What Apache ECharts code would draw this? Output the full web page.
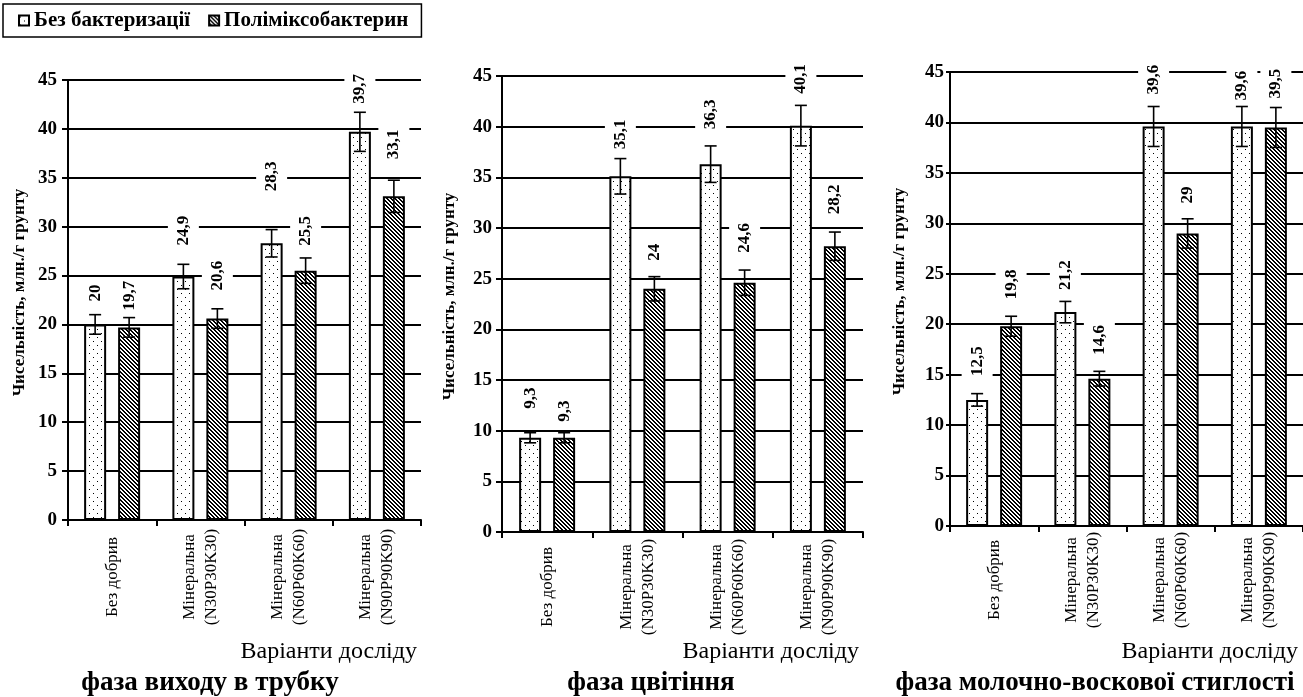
<!DOCTYPE html>
<html>
<head>
<meta charset="utf-8">
<script src="https://cdn.jsdelivr.net/npm/echarts@6/dist/echarts.min.js"></script>
<style>html,body{margin:0;padding:0;background:#fff}#c{width:1303px;height:697px}</style>
</head>
<body>
<div id="c"></div>
<script>
// ---------- data ----------
const categories = ['Без добрив', 'Мінеральна\n(N30P30K30)', 'Мінеральна\n(N60P60K60)', 'Мінеральна\n(N90P90K90)'];
const seriesNames = ['Без бактеризації', 'Поліміксобактерин'];
const phaseTitles = ['фаза виходу в трубку', 'фаза цвітіння', 'фаза молочно-воскової стиглості'];
const xAxisTitle = 'Варіанти досліду';
const yAxisTitle = 'Чисельність, млн./г грунту';
const yTicks = [0, 5, 10, 15, 20, 25, 30, 35, 40, 45];

const tubeNone = [20, 24.9, 28.3, 39.7];
const tubePoly = [19.7, 20.6, 25.5, 33.1];
const tubeNoneErr = [1.0, 1.25, 1.4, 2.0];
const tubePolyErr = [1.0, 1.0, 1.3, 1.65];

const bloomNone = [9.3, 35.1, 36.3, 40.1];
const bloomPoly = [9.3, 24, 24.6, 28.2];
const bloomNoneErr = [0.5, 1.75, 1.8, 2.0];
const bloomPolyErr = [0.5, 1.2, 1.25, 1.4];

const milkNone = [12.5, 21.2, 39.6, 39.6];
const milkPoly = [19.8, 14.6, 29, 39.5];
const milkNoneErr = [0.62, 1.06, 1.98, 1.98];
const milkPolyErr = [0.99, 0.73, 1.45, 1.98];

// ---------- style (label gaps above bar tops, px) ----------
const gapTubeNone = [21, 29, 50, 26];
const gapTubePoly = [15, 26, 23, 35];
const gapBloomNone = [27, 25, 33, 30];
const gapBloomPoly = [14, 26, 28, 30];
const gapMilkNone = [22, 20, 30, 24];
const gapMilkPoly = [25, 22, 28, 27];

const FONT = 'Liberation Serif';
const BAR_W = 22, BAR_BORDER = 2, BAR_VIS_GAP = 10;
const centerStep = BAR_W + BAR_BORDER + BAR_VIS_GAP;
const barGapPct = ((centerStep - BAR_W) / BAR_W * 100).toFixed(1) + '%';

function makeDots() {
  const c = document.createElement('canvas'); c.width = 8; c.height = 8;
  const g = c.getContext('2d'); g.fillStyle = '#fff'; g.fillRect(0, 0, 8, 8);
  g.fillStyle = '#000'; g.fillRect(1, 1, 1, 1); g.fillRect(5, 5, 1, 1);
  return c;
}
function makeHatch() {
  const n = 4; const c = document.createElement('canvas'); c.width = n; c.height = n;
  const g = c.getContext('2d'); g.fillStyle = '#fff'; g.fillRect(0, 0, n, n);
  g.fillStyle = '#000';
  for (let i = 0; i < n; i++) { g.fillRect(i, i, 1, 1); g.fillRect((i + 1) % n, i, 1, 1); }
  return c;
}
const dotFill = { image: makeDots(), repeat: 'repeat' };
const hatchFill = { image: makeHatch(), repeat: 'repeat' };

const grids = [
  { left: 68, top: 80, width: 353, height: 440 },
  { left: 502, top: 76, width: 361, height: 456 },
  { left: 950, top: 72, width: 356, height: 454 }
];
const panels = [
  { none: tubeNone, poly: tubePoly, noneErr: tubeNoneErr, polyErr: tubePolyErr, gN: gapTubeNone, gP: gapTubePoly, nameGap: 40, lblMargin: 11, tick: 6, xMargin: 57, titleX: 210 },
  { none: bloomNone, poly: bloomPoly, noneErr: bloomNoneErr, polyErr: bloomPolyErr, gN: gapBloomNone, gP: gapBloomPoly, nameGap: 44, lblMargin: 10, tick: 6, xMargin: 55, titleX: 651 },
  { none: milkNone, poly: milkPoly, noneErr: milkNoneErr, polyErr: milkPolyErr, gN: gapMilkNone, gP: gapMilkPoly, nameGap: 42, lblMargin: 6, tick: 4, xMargin: 54, titleX: 1095 }
];

const xAxes = [], yAxes = [], series = [], graphics = [];
const fmt = p => String(p.value).replace('.', ',');

function errRender(offset) {
  return function (params, api) {
    const x = api.value(0), v = api.value(1), e = api.value(2);
    const t = api.coord([x, v + e]), b = api.coord([x, v - e]);
    const cx = t[0] + offset, cap = 6;
    const st = { stroke: '#000', lineWidth: 1.6 };
    return { type: 'group', children: [
      { type: 'line', shape: { x1: cx, y1: t[1], x2: cx, y2: b[1] }, style: st },
      { type: 'line', shape: { x1: cx - cap, y1: t[1], x2: cx + cap, y2: t[1] }, style: st },
      { type: 'line', shape: { x1: cx - cap, y1: b[1], x2: cx + cap, y2: b[1] }, style: st }
    ] };
  };
}

panels.forEach((p, gi) => {
  xAxes.push({
    type: 'category', gridIndex: gi, data: categories,
    axisLine: { lineStyle: { color: '#000', width: 2 } },
    axisTick: { show: true, length: 6, lineStyle: { color: '#000', width: 2 } },
    axisLabel: { interval: 0, rotate: 90, align: 'center', verticalAlign: 'middle', margin: p.xMargin,
      fontFamily: FONT, fontSize: 17, lineHeight: 22, color: '#000' },
    splitLine: { show: false }
  });
  yAxes.push({
    type: 'value', gridIndex: gi, min: yTicks[0], max: yTicks[yTicks.length - 1], interval: yTicks[1] - yTicks[0],
    name: yAxisTitle, nameLocation: 'middle', nameGap: p.nameGap, nameRotate: 90,
    nameTextStyle: { fontFamily: FONT, fontWeight: 'bold', fontSize: 17, color: '#000', padding: [0, 0, 0, 15] },
    axisLine: { show: true, lineStyle: { color: '#000', width: 2 } },
    axisTick: { show: true, length: p.tick, lineStyle: { color: '#000', width: 2 } },
    axisLabel: { fontFamily: FONT, fontWeight: 'bold', fontSize: 19, color: '#000', margin: p.lblMargin },
    splitLine: { show: true, lineStyle: { color: '#000', width: 2 } }
  });
  const lbl = { show: true, position: 'top', rotate: 90, align: 'left', verticalAlign: 'middle',
    fontFamily: FONT, fontWeight: 'bold', fontSize: 17, color: '#000',
    backgroundColor: '#fff', padding: [7, 2, 7, 2], formatter: fmt };
  series.push({
    type: 'bar', name: seriesNames[0], xAxisIndex: gi, yAxisIndex: gi, barWidth: BAR_W, barGap: barGapPct,
    itemStyle: { color: dotFill, borderColor: '#000', borderWidth: BAR_BORDER },
    label: lbl, z: 2,
    data: p.none.map((v, i) => ({ value: v, label: { distance: p.gN[i] } }))
  });
  series.push({
    type: 'bar', name: seriesNames[1], xAxisIndex: gi, yAxisIndex: gi, barWidth: BAR_W, barGap: barGapPct,
    itemStyle: { color: hatchFill, borderColor: '#000', borderWidth: BAR_BORDER },
    label: lbl, z: 2,
    data: p.poly.map((v, i) => ({ value: v, label: { distance: p.gP[i] } }))
  });
  series.push({
    type: 'custom', xAxisIndex: gi, yAxisIndex: gi, z: 4, silent: true,
    renderItem: errRender(-centerStep / 2),
    data: p.none.map((v, i) => [i, v, p.noneErr[i]])
  });
  series.push({
    type: 'custom', xAxisIndex: gi, yAxisIndex: gi, z: 4, silent: true,
    renderItem: errRender(centerStep / 2),
    data: p.poly.map((v, i) => [i, v, p.polyErr[i]])
  });
  const g = grids[gi];
  graphics.push({ type: 'text', x: Math.min(g.left + g.width - 4, 1298), y: 652,
    style: { text: xAxisTitle, align: 'right', verticalAlign: 'middle', font: '24px "' + FONT + '"', fill: '#000' } });
  graphics.push({ type: 'text', x: p.titleX, y: 683,
    style: { text: phaseTitles[gi], align: 'center', verticalAlign: 'middle', font: 'bold 27px "' + FONT + '"', fill: '#000' } });
});

const chart = echarts.init(document.getElementById('c'));
chart.setOption({
  animation: false,
  backgroundColor: '#fff',
  legend: {
    data: seriesNames, left: 3, top: 4, icon: 'rect', itemWidth: 10, itemHeight: 10, itemGap: 18,
    padding: [6, 13, 6, 15], borderColor: '#000', borderWidth: 1.5,
    textStyle: { fontFamily: FONT, fontWeight: 'bold', fontSize: 21, color: '#000' }
  },
  grid: grids,
  xAxis: xAxes,
  yAxis: yAxes,
  series: series,
  graphic: graphics
});
</script>
</body>
</html>
